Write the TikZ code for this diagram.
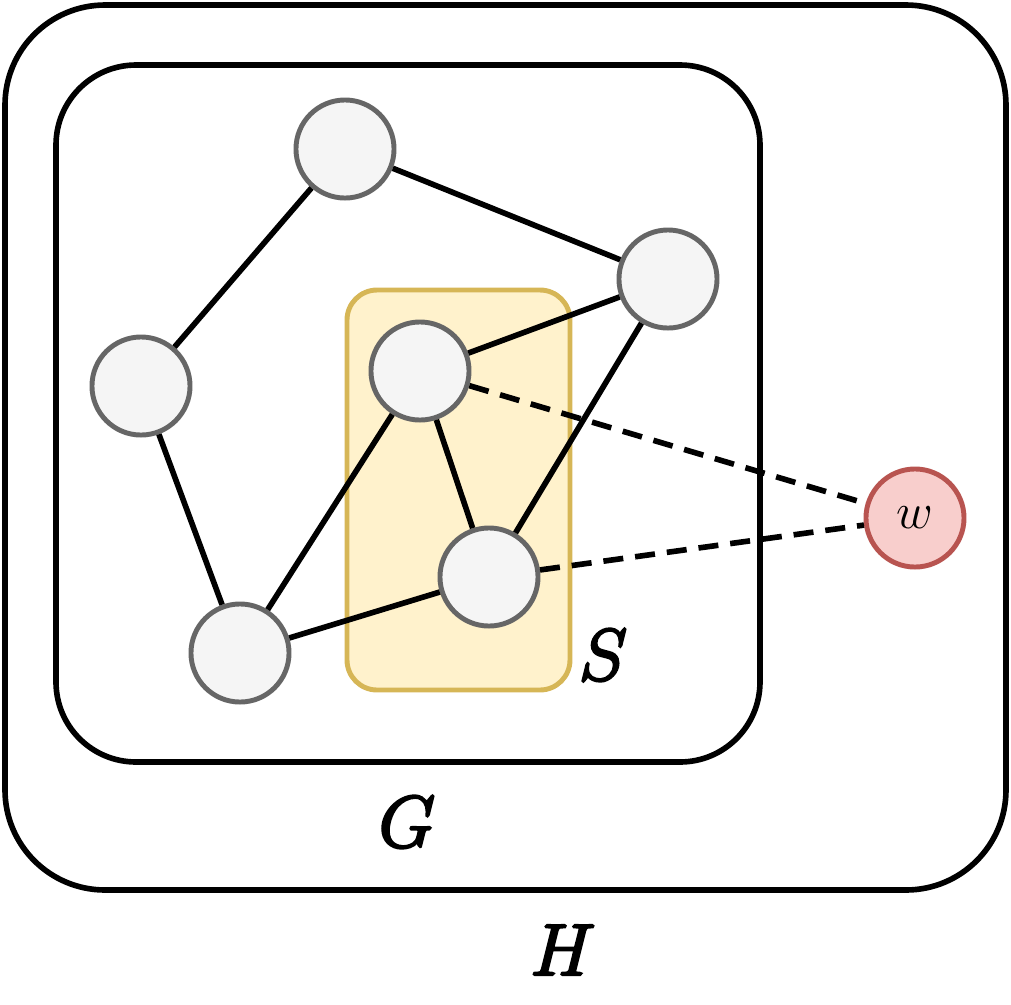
\documentclass[tikz,border=0pt]{standalone}
\usepackage{amsmath}
\usepackage{xcolor}
\usepackage{tikz}

\newcommand{\heavylab}[1]{\special{pdf:literal direct 2 Tr 0.7 w}#1\special{pdf:literal direct 0 Tr}}

\definecolor{vfill}{HTML}{F5F5F5}
\definecolor{vline}{HTML}{666666}
\definecolor{sfill}{HTML}{FFF2CC}
\definecolor{sline}{HTML}{D6B656}
\definecolor{wfill}{HTML}{F8CECC}
\definecolor{wline}{HTML}{B85450}

\tikzset{
	vert/.style={circle,draw=vline,fill=vfill,line width=1.4pt,minimum size=0.98cm,inner sep=0pt},
	wvert/.style={circle,draw=wline,fill=wfill,line width=1.4pt,minimum size=0.98cm,inner sep=0pt,font=\fontsize{15}{17}\selectfont},
	edge/.style={line width=1.6pt},
	dedge/.style={line width=1.6pt,dash pattern=on 5.7pt off 3.4pt},
	biglabel/.style={font=\fontsize{21}{25}\selectfont}
}

\begin{document}
\begin{tikzpicture}[x=0.01cm,y=-0.01cm]
	\useasboundingbox (0,0) rectangle (1011,1005);
	% boxes H, G, S
	\draw[line width=1.6pt,rounded corners=1cm] (5,5) rectangle (1006,890);
	\draw[line width=1.6pt,rounded corners=0.8cm] (56,65) rectangle (760,762);
	\draw[line width=1.4pt,draw=sline,fill=sfill,rounded corners=0.3cm] (347,290) rectangle (570,690);
	
	\node[biglabel] (labH) at (563,950) {\heavylab{$H$}};
	\node[biglabel] (labG) at (407,822) {\heavylab{$G$}};
	\node[biglabel] (labS) at (603,655) {\heavylab{$S$}};
	
	% vertices
	\node[vert] (a) at (345,149) {};
	\node[vert] (b) at (668,279) {};
	\node[vert] (c) at (141,386) {};
	\node[vert] (d) at (420,371) {};
	\node[vert] (e) at (489,577) {};
	\node[vert] (f) at (240,653) {};
	\node[wvert] (w) at (915,518) {$w$};
	
	% edges
	\draw[edge] (a) -- (b);
	\draw[edge] (a) -- (c);
	\draw[edge] (c) -- (f);
	\draw[edge] (f) -- (d);
	\draw[edge] (f) -- (e);
	\draw[edge] (d) -- (b);
	\draw[edge] (d) -- (e);
	\draw[edge] (e) -- (b);
	\draw[dedge] (d) -- (w);
	\draw[dedge] (e) -- (w);
\end{tikzpicture}
\end{document}
